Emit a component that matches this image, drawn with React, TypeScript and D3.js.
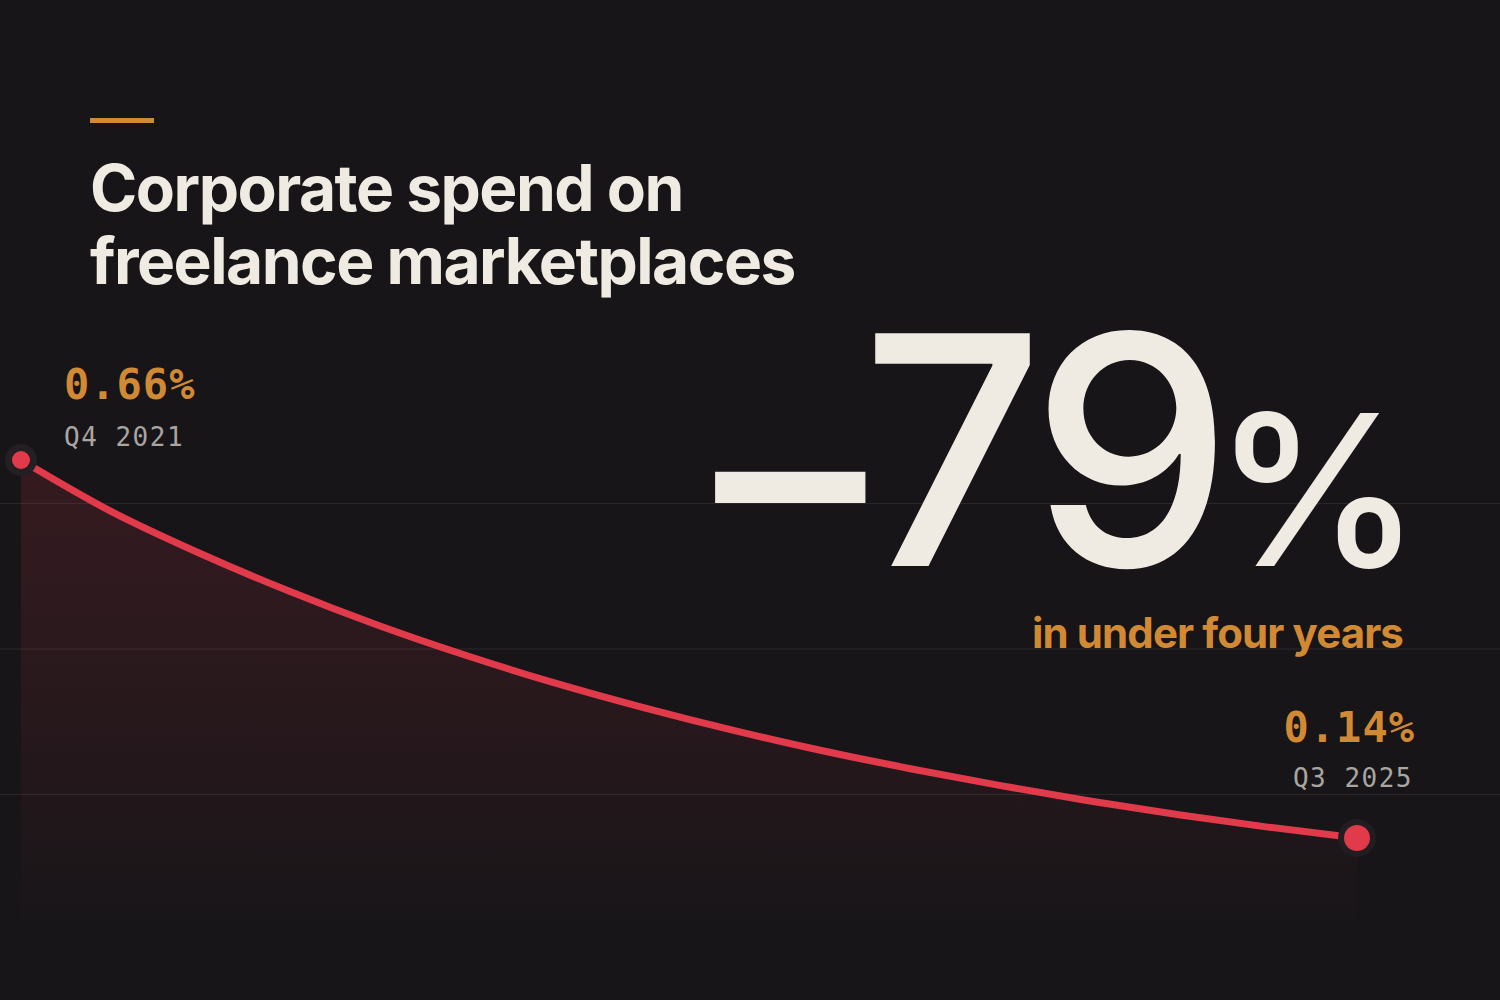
import React from 'react';
import * as d3 from 'd3';

// quarterly share of corporate spend going to freelance marketplaces (%)
const quarters = [
  'Q4 2021', 'Q1 2022', 'Q2 2022', 'Q3 2022', 'Q4 2022',
  'Q1 2023', 'Q2 2023', 'Q3 2023', 'Q4 2023',
  'Q1 2024', 'Q2 2024', 'Q3 2024', 'Q4 2024',
  'Q1 2025', 'Q2 2025', 'Q3 2025',
];
const spendShare = [
  0.66, 0.59, 0.532, 0.48, 0.433, 0.391, 0.353, 0.319,
  0.288, 0.26, 0.235, 0.212, 0.191, 0.172, 0.155, 0.14,
];
const gridTicks = [0.2, 0.4, 0.6];
const titleLines = ['Corporate spend on', 'freelance marketplaces'];
const headline = { sign: '−', value: '79', unit: '%', note: 'in under four years' };

const W = 1500;
const H = 1000;

const BG = '#171518';
const CREAM = '#efebe2';
const ORANGE = '#d28934';
const RED = '#e03a4b';
const GREY = '#a9a5a1';
const MONO = '"DejaVu Sans Mono", "Liberation Mono", monospace';
const SANS = 'Inter, "Noto Sans", sans-serif';

const App: React.FC = () => {
  const x = d3.scalePoint<string>().domain(quarters).range([21, 1357]);
  const y = d3.scaleLinear().domain([0.14, 0.66]).range([838, 460]);

  const pts = quarters.map((q, i) => ({ q, v: spendShare[i] }));

  const line = d3.line<{ q: string; v: number }>()
    .x(d => x(d.q) as number)
    .y(d => y(d.v))
    .curve(d3.curveMonotoneX);

  const area = d3.area<{ q: string; v: number }>()
    .x(d => x(d.q) as number)
    .y0(y(0))
    .y1(d => y(d.v))
    .curve(d3.curveMonotoneX);

  const first = pts[0];
  const last = pts[pts.length - 1];

  return (
    <div style={{ position: 'fixed', left: 0, top: 0, width: W, height: H, background: BG }}>
      <svg width={W} height={H} viewBox={`0 0 ${W} ${H}`} style={{ display: 'block' }}>
        <defs>
          <linearGradient id="areaFade" gradientUnits="userSpaceOnUse" x1="0" x2="0" y1={y(0.66)} y2={y(0)}>
            <stop offset="0%" stopColor={RED} stopOpacity={0.15} />
            <stop offset="60%" stopColor={RED} stopOpacity={0.07} />
            <stop offset="100%" stopColor={RED} stopOpacity={0} />
          </linearGradient>
        </defs>

        <rect width={W} height={H} fill={BG} />

        {/* grid */}
        {gridTicks.map(t => (
          <line key={t} x1={0} x2={W} y1={y(t)} y2={y(t)} stroke="#ffffff" strokeOpacity={0.09} strokeWidth={1} />
        ))}

        {/* area + line */}
        <path d={area(pts) || ''} fill="url(#areaFade)" />
        <path d={line(pts) || ''} fill="none" stroke={RED} strokeWidth={7} strokeLinecap="round" />

        {/* end points */}
        <circle cx={x(first.q)} cy={y(first.v)} r={16} fill="#241f23" />
        <circle cx={x(first.q)} cy={y(first.v)} r={9} fill={RED} />
        <circle cx={x(last.q)} cy={y(last.v)} r={19} fill="#221d21" />
        <circle cx={x(last.q)} cy={y(last.v)} r={13} fill={RED} />

        {/* accent + title */}
        <rect x={90} y={118} width={64} height={5} fill={ORANGE} />
        {titleLines.map((t, i) => (
          <text key={t} x={90} y={211 + i * 73} fill={CREAM} fontFamily={SANS} fontWeight={700}
            fontSize={64} letterSpacing={-1.5}>
            {t}
          </text>
        ))}

        {/* start label */}
        <text x={64} y={399} fill={ORANGE} fontFamily={MONO} fontWeight={700} fontSize={42} letterSpacing={1}>
          {d3.format('.2f')(first.v)}%
        </text>
        <text x={64} y={446} fill={GREY} fontFamily={MONO} fontSize={26} letterSpacing={1.5}>
          {first.q}
        </text>

        {/* end label */}
        <text x={1415} y={742} textAnchor="end" fill={ORANGE} fontFamily={MONO} fontWeight={700} fontSize={42} letterSpacing={1}>
          {d3.format('.2f')(last.v)}%
        </text>
        <text x={1413} y={787} textAnchor="end" fill={GREY} fontFamily={MONO} fontSize={26} letterSpacing={1.5}>
          {last.q}
        </text>

        {/* headline */}
        <text x={1412} y={566} textAnchor="end" fill={CREAM} fontFamily={SANS} fontWeight={500} letterSpacing={-10}>
          <tspan fontSize={320} dy={13}>{headline.sign}</tspan>
          <tspan fontSize={320} dy={-13} dx={-18}>{headline.value}</tspan>
          <tspan fontSize={210} dx={-9}>{headline.unit}</tspan>
        </text>
        <text x={1403} y={648} textAnchor="end" fill={ORANGE} fontFamily={SANS} fontWeight={700}
          fontSize={42} letterSpacing={-0.9}>
          {headline.note}
        </text>
      </svg>
    </div>
  );
};

export default App;
